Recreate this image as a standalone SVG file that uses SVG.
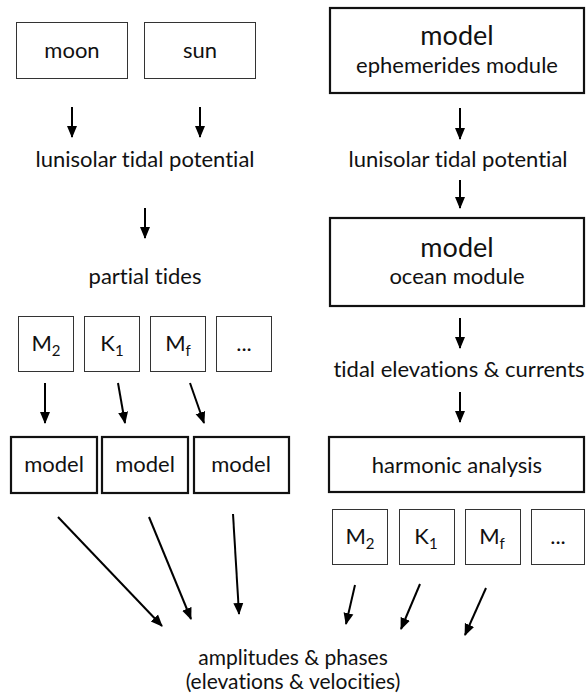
<svg xmlns="http://www.w3.org/2000/svg" width="586" height="700" viewBox="0 0 586 700">
<defs>
<marker id="ah" markerWidth="12" markerHeight="12" viewBox="0 0 12 12" refX="11" refY="6" orient="auto" markerUnits="userSpaceOnUse">
<path d="M0,1 L12,6 L0,11 Z" fill="#000"/>
</marker>
<style>
text{font-family:Lato,"Open Sans","Liberation Sans",sans-serif;font-size:22px;fill:#111;text-anchor:middle;font-variant-ligatures:none;font-feature-settings:"liga" 0,"dlig" 0}
.thin{fill:#fff;stroke:#333;stroke-width:1}
.thick{fill:#fff;stroke:#111;stroke-width:2.2}
.big{font-size:27px}
.sub{font-size:15px}
.low{font-size:21px}
#connectors line{stroke:#000;stroke-width:2;marker-end:url(#ah)}
</style>
</defs>
<rect width="586" height="700" fill="#fff"/>

<g id="moon"><rect class="thin" x="16.5" y="22.5" width="111" height="56"/><text x="72" y="58">moon</text></g>
<g id="sun"><rect class="thin" x="144.5" y="22.5" width="111" height="56"/><text x="200" y="58">sun</text></g>
<g id="lunisolar-left"><text x="145" y="167">lunisolar tidal potential</text></g>
<g id="partial-tides"><text x="145" y="284">partial tides</text></g>

<g id="pt-m2"><rect class="thin" x="18.5" y="316.5" width="55" height="55"/><text x="46" y="351">M<tspan class="sub" dy="5">2</tspan></text></g>
<g id="pt-k1"><rect class="thin" x="84.5" y="316.5" width="55" height="55"/><text x="112" y="351">K<tspan class="sub" dy="5">1</tspan></text></g>
<g id="pt-mf"><rect class="thin" x="150.5" y="316.5" width="55" height="55"/><text x="178" y="351">M<tspan class="sub" dy="5">f</tspan></text></g>
<g id="pt-etc"><rect class="thin" x="216.5" y="316.5" width="55" height="55"/><text x="244" y="351">...</text></g>

<g id="model1"><rect class="thick" x="11" y="437" width="86" height="56"/><text x="54" y="472">model</text></g>
<g id="model2"><rect class="thick" x="102" y="437" width="86" height="56"/><text x="145" y="472">model</text></g>
<g id="model3"><rect class="thick" x="194" y="437" width="95" height="56"/><text x="241" y="472">model</text></g>

<g id="ephemerides"><rect class="thick" x="330" y="8" width="254" height="85"/><text class="big" x="457" y="45">model</text><text x="457" y="73">ephemerides module</text></g>
<g id="lunisolar-right"><text x="458" y="167">lunisolar tidal potential</text></g>
<g id="ocean"><rect class="thick" x="330" y="218" width="254" height="88"/><text class="big" x="457" y="257">model</text><text x="457" y="284">ocean module</text></g>
<g id="elevations"><text x="459" y="377">tidal elevations &amp; currents</text></g>
<g id="harmonic"><rect class="thick" x="329" y="437" width="255" height="55"/><text x="457" y="473">harmonic analysis</text></g>

<g id="ha-m2"><rect class="thin" x="332.5" y="509.5" width="55" height="55"/><text x="360" y="544">M<tspan class="sub" dy="5">2</tspan></text></g>
<g id="ha-k1"><rect class="thin" x="399.5" y="509.5" width="55" height="55"/><text x="426" y="544">K<tspan class="sub" dy="5">1</tspan></text></g>
<g id="ha-mf"><rect class="thin" x="465.5" y="509.5" width="55" height="55"/><text x="492" y="544">M<tspan class="sub" dy="5">f</tspan></text></g>
<g id="ha-etc"><rect class="thin" x="531.5" y="509.5" width="53" height="55"/><text x="558" y="544">...</text></g>

<g id="amplitudes"><text class="low" x="293" y="665">amplitudes &amp; phases</text><text class="low" x="293" y="689">(elevations &amp; velocities)</text></g>

<g id="connectors">
<line x1="72" y1="107" x2="72" y2="137"/>
<line x1="200" y1="107" x2="200" y2="137"/>
<line x1="145" y1="208" x2="145" y2="238"/>
<line x1="45" y1="383" x2="45" y2="423"/>
<line x1="118" y1="383" x2="125" y2="423"/>
<line x1="190" y1="383" x2="204" y2="423"/>
<line x1="58" y1="517" x2="162" y2="626"/>
<line x1="149" y1="517" x2="191" y2="619"/>
<line x1="233" y1="514" x2="239" y2="614"/>
<line x1="460" y1="108" x2="460" y2="139"/>
<line x1="460" y1="180" x2="460" y2="208"/>
<line x1="460" y1="318" x2="460" y2="348"/>
<line x1="460" y1="392" x2="460" y2="422"/>
<line x1="355" y1="585" x2="346" y2="624"/>
<line x1="420" y1="584" x2="401" y2="629"/>
<line x1="486" y1="588" x2="465" y2="635"/>
</g>
</svg>
